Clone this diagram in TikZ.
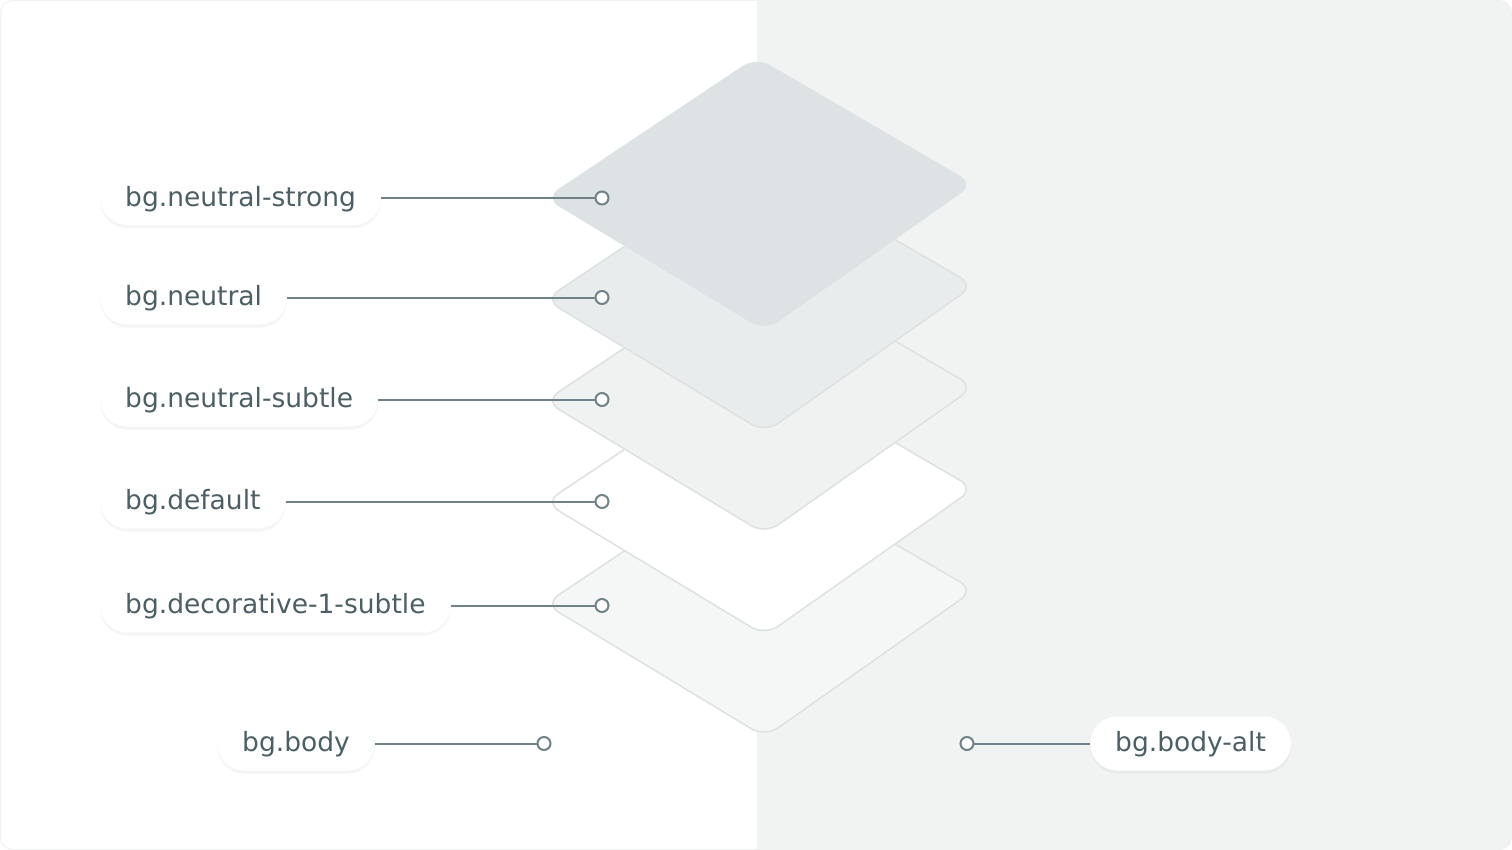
\documentclass[tikz,border=0pt]{standalone}
\usepackage{fontspec}
\setmainfont{DejaVu Sans}
\usepackage{tikz}
\usetikzlibrary{positioning,shadows}
\usepackage{xcolor}

\definecolor{altbg}{HTML}{F1F3F2}
\definecolor{framegray}{HTML}{F0F2F2}
\definecolor{linkgray}{HTML}{6E8287}
\definecolor{labeltext}{HTML}{4B5F64}
\definecolor{layeredge}{HTML}{DCE1E2}
\definecolor{strongfill}{HTML}{DDE2E4}
\definecolor{neutralfill}{HTML}{E9ECEC}
\definecolor{subtlefill}{HTML}{F0F2F2}
\definecolor{decofill}{HTML}{F5F7F7}

\tikzset{
    pill/.style={fill=white, rounded corners=27pt, minimum height=54pt, inner xsep=25pt,
        text height=21pt, text depth=4.6pt,
        text=labeltext, font=\fontsize{26.5}{30}\selectfont,
        drop shadow={opacity=0.08, shadow xshift=0pt, shadow yshift=-3pt}},
    pin/.style={circle, draw=linkgray, line width=2pt, fill=white, inner sep=0pt, minimum size=13pt},
    link/.style={draw=linkgray, line width=2pt},
    layer/.style={draw=layeredge, line width=1.5pt, rounded corners=16pt},
}

\begin{document}
\begin{tikzpicture}[x=1pt, y=-1pt]
    \useasboundingbox (0,0) rectangle (1512,850);

    % Backgrounds
    \begin{scope}
        \clip[rounded corners=12pt] (0.5,0.5) rectangle (1511.5,849.5);
        \fill[white] (0,0) rectangle (757,850);
        \fill[altbg] (757,0) rectangle (1512,850);
    \end{scope}
    \draw[framegray, line width=1pt, rounded corners=12pt] (0.5,0.5) rectangle (1511.5,849.5);

    % Layers, bottom first
    \foreach \o/\col in {406/decofill, 304.5/white, 203/subtlefill, 101.5/neutralfill} {
        \draw[layer, fill=\col] (756,57+\o) -- (974,184+\o) -- (765,331+\o) -- (545,198+\o) -- cycle;
    }
    \fill[strongfill, rounded corners=16pt] (756,57) -- (974,184) -- (765,331) -- (545,198) -- cycle;

    % Labels and pins
    \foreach \n/\y/\txt in {1/198/bg.neutral-strong, 2/297.5/bg.neutral, 3/399.5/bg.neutral-subtle,
                            4/501.5/bg.default, 5/605.5/bg.decorative-1-subtle} {
        \node[pill, anchor=west] (lab\n) at (100,\y) {\txt};
        \draw[link] (lab\n.east) -- (602,\y);
        \node[pin] (pin\n) at (602,\y) {};
    }

    % Body
    \node[pill, anchor=east] (body) at (375,743.5) {bg.body};
    \draw[link] (body.east) -- (544,743.5);
    \node[pin] (pinbody) at (544,743.5) {};

    \node[pill, anchor=west] (bodyalt) at (1090,743.5) {bg.body-alt};
    \draw[link] (bodyalt.west) -- (967,743.5);
    \node[pin] (pinalt) at (967,743.5) {};
\end{tikzpicture}
\end{document}
